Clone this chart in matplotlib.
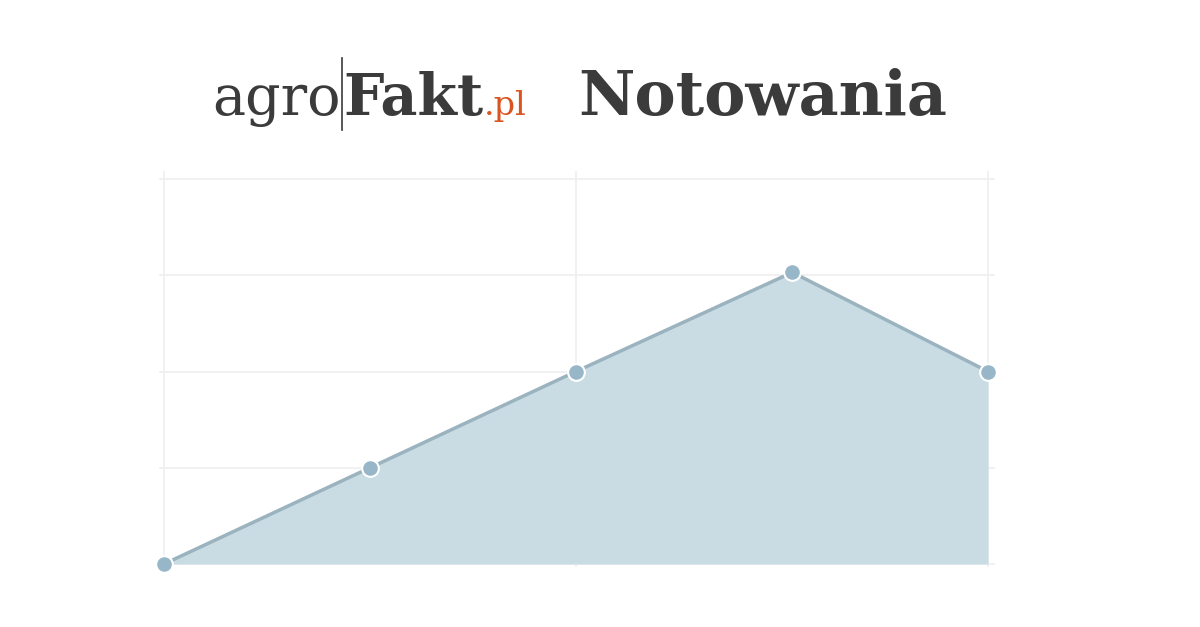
import matplotlib
matplotlib.use("Agg")
import matplotlib.pyplot as plt
from matplotlib.lines import Line2D

# data
positions = [0, 1.0, 2.0, 3.05, 4]
values = [0, 1, 2, 3.03, 2]
y_grid = [0, 1, 2, 3, 4]
x_grid = [0, 2, 4]

W, H = 1200, 627
fig = plt.figure(figsize=(12, 6.27), dpi=100)
fig.patch.set_facecolor("white")

# plot area, pixel box of the reference
left, right, top, bottom = 164, 988, 179, 564
ax = fig.add_axes([left / W, 1 - bottom / H, (right - left) / W, (bottom - top) / H])
ax.set_xlim(0, 4)
ax.set_ylim(0, 4)
for s in ax.spines.values():
    s.set_visible(False)
ax.set_xticks([])
ax.set_yticks([])

for y in y_grid:
    ax.plot([-0.02, 4.03], [y, y], color="#f0f0f0", lw=1.3, clip_on=False, zorder=0)
for x in x_grid:
    ax.plot([x, x], [-0.02, 4.07], color="#f0f0f0", lw=1.3, clip_on=False, zorder=0)

ax.fill_between(positions, values, 0, color="#c9dce4", lw=0, zorder=1)
ax.plot(positions, values, color="#9bb3be", lw=2.5, zorder=2, clip_on=False)
ax.plot(positions, values, "o", ms=12, mfc="#97b6c8", mec="white", mew=1.5,
        zorder=3, clip_on=False)

# header
dark = "#3b3b3b"
serif = "DejaVu Serif"
base = 1 - 115 / H
fig.canvas.draw()
r = fig.canvas.get_renderer()

t1 = fig.text(212 / W, base, "agro", fontsize=40, family=serif, color=dark, va="baseline")
x = t1.get_window_extent(r).x1
fig.add_artist(Line2D([x / W + 0.001, x / W + 0.001], [1 - 58 / H, 1 - 130 / H],
                      color=dark, lw=1.2))
t2 = fig.text(x / W + 0.002, base, "Fakt", fontsize=41, family=serif,
              weight="bold", color=dark, va="baseline")
x = t2.get_window_extent(r).x1
fig.text(x / W + 0.001, base, ".pl", fontsize=24, family=serif, color="#d9541e",
         va="baseline")
fig.text(578 / W, base, "Notowania", fontsize=44.5, family=serif, weight="bold",
         color=dark, va="baseline")

fig.savefig("out.png", dpi=100, facecolor="white")
